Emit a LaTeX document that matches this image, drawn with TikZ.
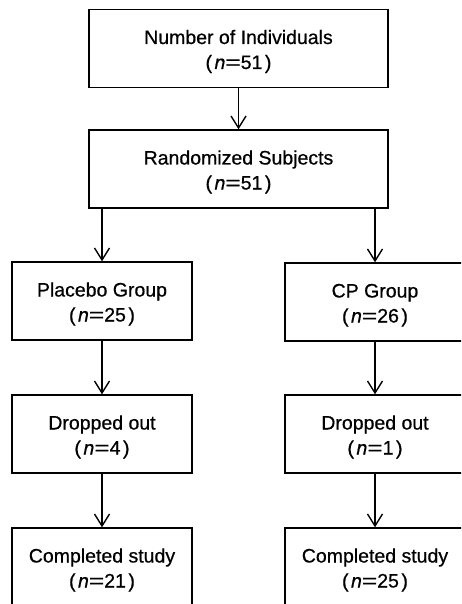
\documentclass[tikz,border=0pt]{standalone}
\usepackage{fontspec}
\usepackage{graphicx}
\setmainfont{Liberation Sans}[FakeBold=0.6]
\usetikzlibrary{arrows.meta}
\newcommand{\myeq}{\scalebox{1.35}[1]{=}}
\newcommand{\nval}[1]{(\hspace{2.5pt}\textit{n}\myeq#1\hspace{2.5pt})}
\newcommand{\twol}[2]{\raisebox{-3pt}[\height][\depth]{\begin{tabular}{@{}c@{}}#1\\#2\end{tabular}}}
\begin{document}
\begin{tikzpicture}[x=1pt,y=-1pt,
  box/.style={draw, line width=1.4pt, inner sep=0pt, align=center,
    font=\fontsize{19.5}{25}\selectfont, minimum height=78pt},
  bigbox/.style={box, minimum width=299pt},
  smallbox/.style={box, minimum width=180pt},
  arr/.style={line width=1.4pt, -{Straight Barb[length=12pt,width=15pt,line width=1.4pt]}}]
\useasboundingbox (0,0) rectangle (461,604);
\fill[white] (0,0) rectangle (461,604);
\clip (0,0) rectangle (461,604);
\node[bigbox] (a) at (238.5,48.5) {\twol{Number of Individuals}{\nval{51}}};
\node[bigbox] (b) at (238.5,169) {\twol{Randomized Subjects}{\nval{51}}};
\node[smallbox] (c1) at (102,301) {\twol{Placebo Group}{\nval{25}}};
\node[smallbox] (c2) at (375,302) {\twol{CP Group}{\nval{26}}};
\node[smallbox] (d1) at (102,434) {\twol{Dropped out}{\nval{4}}};
\node[smallbox] (d2) at (375,434) {\twol{Dropped out}{\nval{1}}};
\node[smallbox] (e1) at (102,567) {\twol{Completed study}{\nval{21}}};
\node[smallbox] (e2) at (375,567) {\twol{Completed study}{\nval{25}}};
\draw[arr] (a.south) -- (b.north);
\draw[arr] (b.south -| c1.north) -- (c1.north);
\draw[arr] (b.south -| c2.north) -- (c2.north);
\draw[arr] (c1.south) -- (d1.north);
\draw[arr] (c2.south) -- (d2.north);
\draw[arr] (d1.south) -- (e1.north);
\draw[arr] (d2.south) -- (e2.north);
\end{tikzpicture}
\end{document}
